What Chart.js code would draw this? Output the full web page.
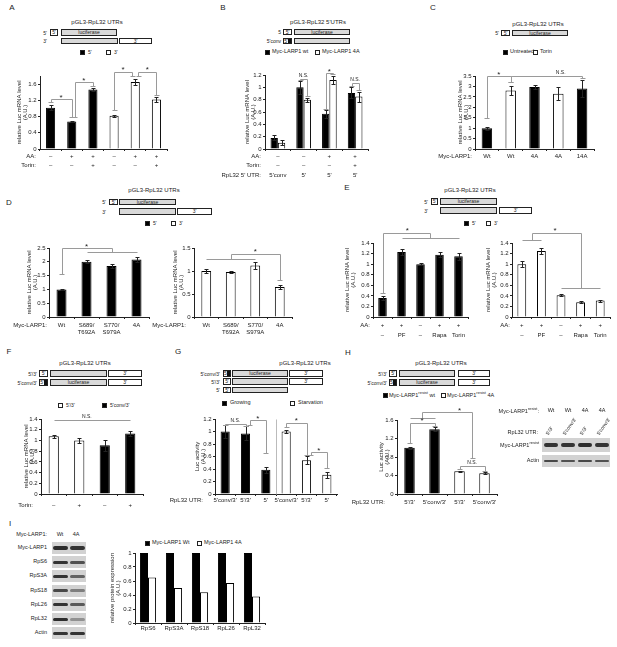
<!DOCTYPE html>
<html>
<head>
<meta charset="utf-8">
<script src="https://cdn.jsdelivr.net/npm/chart.js@4"></script>
<style>
  html, body { margin:0; padding:0; background:#fff; }
  #fig { position:relative; width:617px; height:647px; overflow:hidden; font-family:"Liberation Sans", Arial, sans-serif; color:#222; }
  #fig canvas { position:absolute; }
  .t { position:absolute; white-space:nowrap; line-height:1; }
  .b { position:absolute; box-sizing:border-box; border:1px solid #222; font-size:5px; text-align:center; overflow:hidden; }
  sup { font-size:4px; vertical-align:3px; }
</style>
</head>
<body>
<div id="fig"></div>
<script>
// ── Data ───────────────────────────────────────────────────────
const aAA     = ['–','+','+','–','+','+'];
const aTorin  = ['–','–','+','–','–','+'];
const aSeries = ["5'","5'","5'","3'","3'","3'"];
const aVal    = [1.02,0.68,1.47,0.82,1.65,1.22];
const aErr    = [0.07,0.02,0.03,0.02,0.07,0.06];

const bAA     = ['–','–','+','+'];
const bTorin  = ['–','–','–','+'];
const bUtr    = ["5'conv","5'","5'","5'"];
const bWt     = [0.18,1.00,0.57,0.91];
const bWtErr  = [0.04,0.10,0.06,0.09];
const b4A     = [0.10,0.80,1.12,0.85];
const b4AErr  = [0.04,0.03,0.07,0.08];

const cLarp   = ['Wt','Wt','4A','4A','14A'];
const cSeries = ['Untreated','Torin','Untreated','Torin','Untreated'];
const cVal    = [1.00,2.80,2.97,2.65,2.90];
const cErr    = [0.07,0.20,0.08,0.30,0.40];

const dLarp   = [['Wt'],['S689/','T692A'],['S770/','S979A'],['4A']];
const d5Val   = [1.00,2.00,1.85,2.08];
const d5Err   = [0.03,0.05,0.07,0.08];
const d3Val   = [1.00,0.98,1.12,0.65];
const d3Err   = [0.04,0.03,0.07,0.04];

const eAA     = ['+','+','–','+','+'];
const eDrug   = ['–','PF','–','Rapa','Torin'];
const e5Val   = [0.36,1.23,1.00,1.18,1.15];
const e5Err   = [0.04,0.06,0.02,0.05,0.07];
const e3Val   = [1.00,1.25,0.41,0.28,0.31];
const e3Err   = [0.05,0.05,0.02,0.02,0.02];

const fTorin  = ['–','+','–','+'];
const fSeries = ["5'/3'","5'/3'","5'conv/3'","5'conv/3'"];
const fVal    = [1.08,1.00,0.91,1.13];
const fErr    = [0.03,0.05,0.10,0.05];

const gUtr    = ["5'conv/3'","5'/3'","5'","5'conv/3'","5'/3'","5'"];
const gSeries = ['Growing','Growing','Growing','Starvation','Starvation','Starvation'];
const gVal    = [1.00,0.97,0.39,1.00,0.54,0.31];
const gErr    = [0.10,0.11,0.05,0.03,0.06,0.05];

const hUtr    = ["5'/3'","5'conv/3'","5'/3'","5'conv/3'"];
const hSeries = ['wt','wt','4A','4A'];
const hVal    = [1.00,1.40,0.49,0.45];
const hErr    = [0.02,0.04,0.01,0.02];
const hLanes  = ['Wt','Wt','4A','4A'];
const hBlotLarp  = [0.85,0.85,0.9,0.85];
const hBlotActin = [0.75,0.7,0.75,0.7];

const iProt   = ['RpS6','RpS3A','RpS18','RpL26','RpL32'];
const iWt     = [1,1,1,1,1];
const i4A     = [0.65,0.50,0.44,0.57,0.38];
const iBlotRows = ['Myc-LARP1','RpS6','RpS3A','RpS18','RpL26','RpL32','Actin'];
const iBlotWt   = [0.9,0.85,0.85,0.75,0.85,0.9,0.85];
const iBlot4A   = [0.85,0.7,0.6,0.45,0.65,0.35,0.85];

// ── Helpers ────────────────────────────────────────────────────
const FONT = '"Liberation Sans", Arial, sans-serif';
const INK = '#222', BRK = '#9a9a9a';
const FILL = { "5'":'#000', "3'":'#fff', Untreated:'#000', Torin:'#fff', "5'/3'":'#fff', "5'conv/3'":'#000',
               Growing:'#000', Starvation:'#fff', wt:'#000', '4A':'#fff' };
Chart.defaults.font.family = FONT;
Chart.defaults.color = INK;

const fig = document.getElementById('fig');

function txt(x, y, s, size = 6, align = 'c', extra = '') {
  const d = document.createElement('div');
  d.className = 't';
  d.innerHTML = s;
  const tx = align === 'l' ? '0' : align === 'r' ? '-100%' : '-50%';
  d.style.cssText = `left:${x}px;top:${y}px;font-size:${size}px;transform:translate(${tx},-50%);${extra}`;
  fig.appendChild(d);
}
function box(x0, y0, x1, y1, label = '', fill = '#fff', stripe = 0) {
  const d = document.createElement('div');
  d.className = 'b';
  d.style.cssText = `left:${x0}px;top:${y0}px;width:${x1-x0}px;height:${y1-y0}px;background:${fill};line-height:${y1-y0-2}px;${stripe?`padding-right:${stripe}px;`:''}`;
  d.textContent = label;
  if (stripe) {
    const s = document.createElement('div');
    s.style.cssText = `position:absolute;right:0;top:0;bottom:0;width:${stripe}px;background:#111`;
    d.appendChild(s);
  }
  fig.appendChild(d);
}
const GREY = '#d9d9d9';
function sq(x, y, fill) { box(x, y - 2.5, x + 5, y + 2.5, '', fill); }

function blot(x0, y0, x1, y1, lanes, ints, bw, bh) {
  const d = document.createElement('div');
  d.style.cssText = `position:absolute;left:${x0}px;top:${y0}px;width:${x1-x0}px;height:${y1-y0}px;background:#d2d2d2`;
  lanes.forEach((lx, i) => {
    const b = document.createElement('div');
    b.style.cssText = `position:absolute;left:${lx-x0-bw/2}px;top:${(y1-y0)/2-bh/2}px;width:${bw}px;height:${bh}px;border-radius:2px;background:rgba(25,25,25,${ints[i]});filter:blur(0.5px)`;
    d.appendChild(b);
  });
  fig.appendChild(d);
}

// ── Bar chart factory ──────────────────────────────────────────
function bars(o) {
  const W = o.padL + (o.x1 - o.x0) + o.padR, H = o.padT + (o.y1 - o.y0) + o.padB;
  const ox = o.x0 - o.padL, oy = o.y0 - o.padT;
  const cv = document.createElement('canvas');
  cv.width = W; cv.height = H;
  cv.style.left = ox + 'px'; cv.style.top = oy + 'px';
  fig.appendChild(cv);

  const annot = { id:'annot', afterDraw(ch) {
    const ctx = ch.ctx, ca = ch.chartArea, ys = ch.scales.y;
    const step = (ca.right - ca.left) / o.labels.length;
    const X = c => ca.left + (c + 0.5) * step;
    const Y = v => ys.getPixelForValue(v);
    const P = v => Math.round(v) + 0.5;
    const seg = (x1, y1, x2, y2) => { ctx.beginPath(); ctx.moveTo(P(x1), P(y1)); ctx.lineTo(P(x2), P(y2)); ctx.stroke(); };
    ctx.save();
    ctx.lineWidth = 1;
    if (o.divider != null) { ctx.strokeStyle = '#bbb'; seg(X(o.divider), ca.top, X(o.divider), ca.bottom); }
    // error bars
    ctx.strokeStyle = INK;
    ch.data.datasets.forEach((ds, di) => {
      if (!ds.err) return;
      ch.getDatasetMeta(di).data.forEach((el, i) => {
        const v = ds.data[i], e = ds.err[i], t = Y(v + e), b = Y(v - e);
        seg(el.x, t, el.x, b); seg(el.x - 2, t, el.x + 2, t); seg(el.x - 2, b, el.x + 2, b);
      });
    });
    // significance brackets
    (o.brackets || []).forEach(k => {
      ctx.strokeStyle = BRK;
      const yl = Y(k.y);
      const end = e => {
        if (e.length === 3) {
          const xm = X((e[0] + e[1]) / 2), yg = Y(e[2]);
          seg(X(e[0]), yg, X(e[1]), yg); seg(xm, yg, xm, yl);
          return xm;
        }
        const x = X(e[0]), yb = Y(e[1]);
        if (e[1] !== k.y) { seg(x, yl, x, yb); seg(x - 2.5, yb, x + 2.5, yb); }
        return x;
      };
      const xa = end(k.a), xb = end(k.b);
      seg(xa, yl, xb, yl);
      const tx = k.tx != null ? X(k.tx) : (xa + xb) / 2;
      ctx.fillStyle = INK; ctx.textAlign = 'center'; ctx.textBaseline = 'alphabetic';
      if (k.t === '*') { ctx.font = '8px ' + FONT; ctx.fillText('*', tx, yl + 0.5); }
      else { ctx.font = '5px ' + FONT; ctx.fillText(k.t, tx, yl - 2); }
    });
    // category rows under the axis
    ctx.fillStyle = INK; ctx.font = '6px ' + FONT; ctx.textBaseline = 'middle';
    (o.rows || []).forEach(r => {
      const y = r.y - oy;
      if (r.head) { ctx.textAlign = 'right'; ctx.fillText(r.head, o.headX - ox, y); }
      ctx.textAlign = 'center';
      r.cells.forEach((c, i) => [].concat(c).forEach((line, j) => ctx.fillText(line, X(i), y + j * 7)));
    });
    // y title
    ctx.save();
    ctx.translate(o.titleX - ox, (ca.top + ca.bottom) / 2);
    ctx.rotate(-Math.PI / 2);
    ctx.textAlign = 'center';
    o.yTitle.forEach((l, j) => ctx.fillText(l, 0, j * 6.5));
    ctx.restore();
    ctx.restore();
  }};

  new Chart(cv, {
    type: 'bar',
    data: { labels: o.labels, datasets: o.sets.map(s => ({
      data: s.data, err: s.err, backgroundColor: s.fill, borderColor: '#000', borderWidth: 1,
      barPercentage: o.barPct, categoryPercentage: o.catPct })) },
    options: {
      responsive: false, animation: false, devicePixelRatio: 1,
      layout: { padding: { top: o.padT, right: o.padR, bottom: o.padB - 3, left: 0 } },
      plugins: { legend: { display: false }, tooltip: { enabled: false } },
      scales: {
        x: { grid: { drawOnChartArea: false, tickLength: 2, color: INK }, border: { color: INK },
             ticks: { display: false }, afterFit: s => { s.height = 3; } },
        y: { min: 0, max: o.yMax, grid: { drawOnChartArea: false, tickLength: 2, color: INK }, border: { color: INK },
             ticks: { stepSize: o.yStep, padding: 1.5, font: { size: 6 }, color: INK, callback: v => String(+v.toFixed(2)) },
             afterFit: s => { s.width = o.padL; } }
      }
    },
    plugins: [annot]
  });
}
const LUC = ['relative Luc mRNA level', '(A.U.)'];
const ACT = ['Luc activity', '(A.U.)'];

// ── Panel letters ──────────────────────────────────────────────
[['A',12,8],['B',223,8],['C',433,8],['D',9,203],['E',347,188],['F',9,352],['G',178,352],['H',348,353],['I',10,524]]
  .forEach(([s,x,y]) => txt(x, y, s, 8));

// ── A ──────────────────────────────────────────────────────────
txt(97, 22, 'pGL3-RpL32 UTRs', 6);
txt(47, 32.5, "5'", 5, 'r'); box(50, 29, 58, 36, "5'"); box(61, 29, 117, 36, 'luciferase', GREY);
txt(47, 41, "3'", 5, 'r'); box(61, 38, 118, 44, '', GREY); box(119, 38, 152, 44, "3'");
sq(80, 52, '#000'); txt(88, 52, "5'", 5, 'l'); sq(106, 52, '#fff'); txt(114, 52, "3'", 5, 'l');
bars({ labels: aAA, sets: [{ data: aVal, err: aErr, fill: aSeries.map(k => FILL[k]) }],
  x0: 40, x1: 167, y0: 76, y1: 149, padL: 32, padT: 14, padB: 22, padR: 4,
  yMax: 1.8, yStep: 0.2, barPct: 0.43, catPct: 1, yTitle: LUC, titleX: 19,
  rows: [{ head: 'AA:', y: 156, cells: aAA }, { head: 'Torin:', y: 165, cells: aTorin }], headX: 36,
  brackets: [
    { a: [0, 1.17], b: [1, 0.79], y: 1.23, t: '*' },
    { a: [1.15, 0.79], b: [2, 1.55], y: 1.65, t: '*' },
    { a: [3, 0.96], b: [3.85, 1.8], y: 1.9, t: '*' },
    { a: [4.15, 1.8], b: [5, 1.33], y: 1.9, t: '*' } ] });

// ── B ──────────────────────────────────────────────────────────
txt(318, 22, "pGL3-RpL32 5'UTRs", 6);
txt(281, 32, '5', 5, 'r'); box(283, 29, 292, 35, "5'"); box(294, 29, 350, 35, 'luciferase', GREY);
txt(281, 41, "5'conv", 5, 'r'); box(283, 38, 292, 44, "5'", '#fff', 3); box(294, 38, 350, 44, '', GREY);
sq(265, 52, '#000'); txt(272, 52, 'Myc-LARP1 wt', 5.5, 'l'); sq(315, 52, '#fff'); txt(322, 52, 'Myc-LARP1 4A', 5.5, 'l');
bars({ labels: bAA, sets: [{ data: bWt, err: bWtErr, fill: '#000' }, { data: b4A, err: b4AErr, fill: '#fff' }],
  x0: 265, x1: 368, y0: 75, y1: 149, padL: 44, padT: 14, padB: 32, padR: 4,
  yMax: 1.2, yStep: 0.2, barPct: 1, catPct: 0.57, yTitle: LUC, titleX: 247,
  rows: [{ head: 'AA:', y: 156, cells: bAA }, { head: 'Torin:', y: 165, cells: bTorin }, { head: "RpL32 5' UTR:", y: 175, cells: bUtr }], headX: 261,
  brackets: [
    { a: [0.86, 1.12], b: [1.14, 0.86], y: 1.13, t: 'N.S.' },
    { a: [1.86, 0.65], b: [2.14, 1.21], y: 1.23, t: '*' },
    { a: [2.86, 1.02], b: [3.14, 0.95], y: 1.07, t: 'N.S.' } ] });

// ── C ──────────────────────────────────────────────────────────
txt(538, 24, 'pGL3-RpL32 UTRs', 6);
txt(499, 33, "5'", 5, 'r'); box(501, 30, 510, 36, "5'"); box(512, 30, 568, 36, 'luciferase', GREY);
sq(503, 52, '#000'); txt(510, 52, 'Untreated', 5.5, 'l'); sq(533, 52, '#fff'); txt(540, 52, 'Torin', 5.5, 'l');
bars({ labels: cLarp, sets: [{ data: cVal, err: cErr, fill: cSeries.map(k => FILL[k]) }],
  x0: 475, x1: 594, y0: 76, y1: 149, padL: 39, padT: 14, padB: 13, padR: 4,
  yMax: 3.5, yStep: 0.5, barPct: 0.44, catPct: 1, yTitle: LUC, titleX: 460,
  rows: [{ head: 'Myc-LARP1:', y: 156, cells: cLarp }], headX: 472,
  brackets: [
    { a: [0, 1.5], b: [1, 3.2], y: 3.5, t: '*' },
    { a: [1, 3.2], b: [4, 3.4], y: 3.5, t: 'N.S.', tx: 3.1 } ] });

// ── D ──────────────────────────────────────────────────────────
txt(154, 190, 'pGL3-RpL32 UTRs', 6);
txt(106, 202, "5'", 5, 'r'); box(109, 199, 118, 205, "5'"); box(119, 199, 176, 205, 'luciferase', GREY);
txt(106, 211.5, "3'", 5, 'r'); box(119, 208, 176, 215, '', GREY); box(177, 208, 212, 215, "3'");
sq(145, 223, '#000'); txt(153, 223, "5'", 5, 'l'); sq(171, 223, '#fff'); txt(179, 223, "3'", 5, 'l');
bars({ labels: dLarp, sets: [{ data: d5Val, err: d5Err, fill: '#000' }],
  x0: 49, x1: 149, y0: 248, y1: 317, padL: 39, padT: 12, padB: 21, padR: 4,
  yMax: 2.5, yStep: 0.5, barPct: 0.4, catPct: 1, yTitle: LUC, titleX: 29,
  rows: [{ head: 'Myc-LARP1:', y: 325, cells: dLarp }], headX: 47,
  brackets: [ { a: [0, 1.55], b: [1, 3, 2.36], y: 2.5, t: '*', tx: 1 } ] });
bars({ labels: dLarp, sets: [{ data: d3Val, err: d3Err, fill: '#fff' }],
  x0: 194, x1: 292, y0: 248, y1: 317, padL: 44, padT: 12, padB: 21, padR: 4,
  yMax: 1.5, yStep: 0.5, barPct: 0.4, catPct: 1, yTitle: LUC, titleX: 175,
  rows: [{ head: 'Myc-LARP1:', y: 325, cells: dLarp }], headX: 186,
  brackets: [ { a: [0, 2, 1.26], b: [3, 0.8], y: 1.37, t: '*', tx: 2 } ] });

// ── E ──────────────────────────────────────────────────────────
txt(470, 190, 'pGL3-RpL32 UTRs', 6);
txt(428, 201.5, "5'", 5, 'r'); box(431, 198, 438, 205, "5'"); box(440, 198, 497, 205, 'luciferase', GREY);
txt(428, 210.5, "3'", 5, 'r'); box(440, 207, 497, 214, '', GREY); box(499, 207, 532, 214, "3'");
sq(464, 223, '#000'); txt(472, 223, "5'", 5, 'l'); sq(486, 223, '#fff'); txt(494, 223, "3'", 5, 'l');
bars({ labels: eAA, sets: [{ data: e5Val, err: e5Err, fill: '#000' }],
  x0: 373, x1: 468, y0: 243, y1: 317, padL: 30, padT: 18, padB: 24, padR: 4,
  yMax: 1.4, yStep: 0.2, barPct: 0.45, catPct: 1, yTitle: LUC, titleX: 347,
  rows: [{ head: 'AA:', y: 325, cells: eAA }, { head: '', y: 335, cells: eDrug }], headX: 370,
  brackets: [ { a: [0, 0.45], b: [1, 4, 1.49], y: 1.59, t: '*', tx: 1.3 } ] });
bars({ labels: eAA, sets: [{ data: e3Val, err: e3Err, fill: '#fff' }],
  x0: 512, x1: 610, y0: 243, y1: 317, padL: 28, padT: 18, padB: 24, padR: 5,
  yMax: 1.4, yStep: 0.2, barPct: 0.45, catPct: 1, yTitle: LUC, titleX: 488,
  rows: [{ head: 'AA:', y: 325, cells: eAA }, { head: '', y: 335, cells: eDrug }], headX: 510,
  brackets: [ { a: [0, 1, 1.46], b: [2, 4, 0.55], y: 1.59, t: '*', tx: 1.7 } ] });

// ── F ──────────────────────────────────────────────────────────
txt(85, 363, 'pGL3-RpL32 UTRs', 6);
txt(37, 373.5, "5'/3'", 5, 'r'); box(39, 370, 48, 377, "5'"); box(50, 370, 107, 377, '', GREY); box(108, 370, 142, 377, "3'");
txt(37, 382.5, "5'conv/3'", 5, 'r'); box(39, 379, 48, 386, "5'", '#fff', 3); box(50, 379, 107, 386, 'luciferase', GREY); box(108, 379, 142, 386, "3'");
sq(58, 405, '#fff'); txt(66, 405, "5'/3'", 5, 'l'); sq(102, 405, '#000'); txt(110, 405, "5'conv/3'", 5, 'l');
bars({ labels: fTorin, sets: [{ data: fVal, err: fErr, fill: fSeries.map(k => FILL[k]) }],
  x0: 41, x1: 143, y0: 419, y1: 494, padL: 30, padT: 10, padB: 17, padR: 4,
  yMax: 1.4, yStep: 0.2, barPct: 0.4, catPct: 1, yTitle: LUC, titleX: 26,
  rows: [{ head: 'Torin:', y: 505, cells: fTorin }], headX: 33,
  brackets: [ { a: [0, 1.38], b: [3, 1.38], y: 1.38, t: 'N.S.', tx: 1.3 } ] });

// ── G ──────────────────────────────────────────────────────────
txt(305, 363, 'pGL3-RpL32 UTRs', 6);
txt(220, 373.5, "5'conv/3'", 5, 'r'); box(223, 370, 231, 377, "5'", '#fff', 3); box(232, 370, 288, 377, 'luciferase', GREY); box(289, 370, 323, 377, "3'");
txt(220, 381.5, "5'/3'", 5, 'r'); box(223, 378, 231, 385, "5'"); box(232, 378, 288, 385, '', GREY); box(289, 378, 323, 385, "3'");
txt(220, 390, "5'", 5, 'r'); box(223, 387, 231, 393, "5'"); box(232, 387, 288, 393, '', GREY);
sq(222, 403, '#000'); txt(230, 403, 'Growing', 5.5, 'l'); sq(290, 403, '#fff'); txt(298, 403, 'Starvation', 5.5, 'l');
bars({ labels: gUtr, sets: [{ data: gVal, err: gErr, fill: gSeries.map(k => FILL[k]) }],
  x0: 215, x1: 337, y0: 419, y1: 494, padL: 47, padT: 10, padB: 12, padR: 4,
  yMax: 1.2, yStep: 0.2, barPct: 0.45, catPct: 1, yTitle: ACT, titleX: 197, divider: 2.5,
  rows: [{ head: 'RpL32 UTR:', y: 500, cells: gUtr }], headX: 203,
  brackets: [
    { a: [0, 1.1], b: [1, 1.09], y: 1.12, t: 'N.S.' },
    { a: [1.2, 1.1], b: [2, 0.65], y: 1.18, t: '*' },
    { a: [3, 1.07], b: [4, 0.62], y: 1.14, t: '*' },
    { a: [4.2, 0.63], b: [5, 0.42], y: 0.67, t: '*' } ] });

// ── H ──────────────────────────────────────────────────────────
txt(441, 363, 'pGL3-RpL32 UTRs', 6);
txt(387, 373.5, "5'/3'", 5, 'r'); box(389, 370, 397, 377, "5'"); box(399, 370, 455, 377, '', GREY); box(458, 370, 490, 377, "3'");
txt(387, 382.5, "5'conv/3'", 5, 'r'); box(389, 379, 397, 386, "5'", '#fff', 3); box(399, 379, 455, 386, 'luciferase', GREY); box(458, 379, 490, 386, "3'");
sq(383, 395, '#000'); txt(389, 395, 'Myc-LARP1<sup>resist</sup> wt', 5.5, 'l'); sq(441, 395, '#fff'); txt(447, 395, 'Myc-LARP1<sup>resist</sup> 4A', 5.5, 'l');
bars({ labels: hUtr, sets: [{ data: hVal, err: hErr, fill: hSeries.map(k => FILL[k]) }],
  x0: 397, x1: 497, y0: 420, y1: 494, padL: 45, padT: 20, padB: 14, padR: 4,
  yMax: 1.6, yStep: 0.2, barPct: 0.42, catPct: 1, yTitle: ACT, titleX: 381,
  rows: [{ head: 'RpL32 UTR:', y: 502, cells: hUtr }], headX: 385,
  brackets: [
    { a: [0, 1, 1.64], b: [2.5, 0.78], y: 1.77, t: '*', tx: 2 },
    { a: [0, 1.1], b: [1, 1.47], y: 1.54, t: '*' },
    { a: [2, 0.53], b: [3, 0.5], y: 0.6, t: 'N.S.' } ] });
// H western blot
const hLaneX = [551, 568, 585, 602];
txt(539, 411, 'Myc-LARP1<sup>resist</sup>:', 5.5, 'r');
hLanes.forEach((s, i) => txt(hLaneX[i], 411, s, 5.5));
txt(538, 433, 'RpL32 UTR:', 5.5, 'r');
hUtr.forEach((s, i) => {
  const d = document.createElement('div');
  d.className = 't'; d.textContent = s;
  d.style.cssText = `left:${hLaneX[i]-2}px;top:431px;font-size:5px;transform-origin:0 100%;transform:rotate(-55deg)`;
  fig.appendChild(d);
});
txt(539, 445, 'Myc-LARP1<sup>resist</sup>', 5.5, 'r');
blot(542, 438, 610, 452, hLaneX, hBlotLarp, 14, 3.5);
txt(539, 461, 'Actin', 5.5, 'r');
blot(542, 455, 610, 467, hLaneX, hBlotActin, 14, 2.5);

// ── I ──────────────────────────────────────────────────────────
txt(47, 535, 'Myc-LARP1:', 5.5, 'r'); txt(60, 535, 'Wt', 5.5); txt(76, 535, '4A', 5.5);
iBlotRows.forEach((name, i) => {
  const yc = 548 + i * 14.2;
  txt(47, yc, name, 5.5, 'r');
  blot(52, yc - 6, 86, yc + 6, [60, 77], [iBlotWt[i], iBlot4A[i]], 15, i === 0 ? 4.5 : 3);
});
sq(145, 543, '#000'); txt(152, 543, 'Myc-LARP1 Wt', 5.5, 'l'); sq(197, 543, '#fff'); txt(204, 543, 'Myc-LARP1 4A', 5.5, 'l');
bars({ labels: iProt, sets: [{ data: iWt, fill: '#000' }, { data: i4A, fill: '#fff' }],
  x0: 135, x1: 265, y0: 553, y1: 623, padL: 27, padT: 6, padB: 11, padR: 4,
  yMax: 1, yStep: 0.2, barPct: 1, catPct: 0.62, yTitle: ['relative protein expression', '(A.U.)'], titleX: 112,
  rows: [{ head: '', y: 628, cells: iProt }], headX: 130 });
</script>
</body>
</html>
